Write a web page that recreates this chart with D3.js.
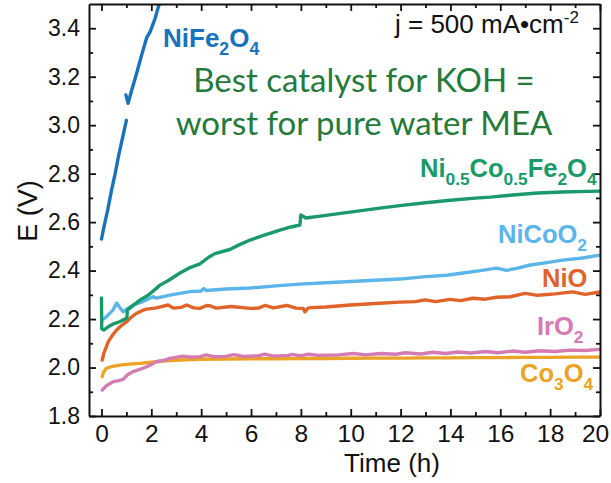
<!DOCTYPE html>
<html><head><meta charset="utf-8">
<script src="https://cdn.jsdelivr.net/npm/d3@7"></script>
<style>
html,body{margin:0;padding:0;background:#fff;}
svg{display:block;}
</style></head>
<body>
<svg id="chart" width="611" height="483"></svg>
<script>
// ---------- data (time h, potential V) ----------
const xTicks = [0,2,4,6,8,10,12,14,16,18,20];
const xMinorTicks = [1,3,5,7,9,11,13,15,17,19];
const yTicks = [1.8,2.0,2.2,2.4,2.6,2.8,3.0,3.2,3.4];
const yMinorTicks = [1.9,2.1,2.3,2.5,2.7,2.9,3.1,3.3];

const NiFe2O4_a = [[0,2.53],[0.1,2.58],[0.25,2.65],[0.4,2.73],[0.55,2.80],[0.7,2.88],[0.85,2.95],[1.0,3.02]];
const NiFe2O4_b = [[0.98,3.125],[1.07,3.09],[1.2,3.14],[1.4,3.21],[1.6,3.285],[1.81,3.36],[1.95,3.385],[2.15,3.44],[2.4,3.53]];
const NiCoFe = [[0,2.287],[0.01,2.16],[0.1,2.155],[0.3,2.17],[0.46,2.179],[0.75,2.19],[1.02,2.204],[1.04,2.237],[1.2,2.25],[1.54,2.278],[1.9,2.30],[2.35,2.34],[2.7,2.36],[3.15,2.39],[3.5,2.41],[3.95,2.428],[4.3,2.455],[4.55,2.47],[5.15,2.487],[5.5,2.505],[5.96,2.526],[6.5,2.545],[7.16,2.567],[7.6,2.58],[7.96,2.588],[8.0,2.63],[8.2,2.617],[9.0,2.628],[9.97,2.641],[11.17,2.658],[11.97,2.668],[13,2.68],[14,2.69],[15,2.699],[15.6,2.703],[16.5,2.712],[17.5,2.72],[18.5,2.724],[19.5,2.727],[20,2.728]];
const NiCoO2 = [[0.03,2.196],[0.2,2.21],[0.46,2.237],[0.61,2.266],[0.72,2.25],[0.87,2.23],[1.0,2.24],[1.27,2.258],[1.6,2.27],[2.07,2.292],[2.2,2.286],[2.8,2.3],[3.55,2.313],[4.0,2.316],[4.1,2.326],[4.2,2.318],[5.0,2.324],[5.96,2.328],[7.0,2.337],[7.96,2.344],[9,2.35],[10,2.355],[11.17,2.361],[11.97,2.365],[13,2.375],[13.85,2.381],[14.5,2.39],[15.2,2.4],[15.85,2.41],[16.25,2.401],[16.7,2.41],[17.2,2.423],[18,2.435],[18.5,2.443],[19.3,2.452],[20,2.464]];
const NiO = [[0.03,2.031],[0.1,2.06],[0.27,2.106],[0.45,2.135],[0.61,2.155],[0.8,2.173],[1.01,2.189],[1.2,2.208],[1.41,2.224],[1.75,2.24],[2.2,2.246],[2.67,2.258],[2.9,2.245],[3.2,2.248],[3.42,2.258],[3.7,2.246],[3.95,2.244],[4.22,2.256],[4.35,2.255],[4.6,2.245],[5.2,2.252],[5.96,2.244],[6.3,2.245],[6.56,2.256],[6.9,2.246],[7.44,2.256],[7.8,2.245],[8.1,2.244],[8.16,2.23],[8.3,2.246],[9.0,2.25],[9.97,2.258],[11,2.264],[11.97,2.27],[12.6,2.272],[12.98,2.279],[13.4,2.272],[13.98,2.281],[14.4,2.276],[14.9,2.286],[15.4,2.282],[15.85,2.29],[16.4,2.292],[17,2.306],[17.5,2.298],[18.2,2.304],[18.9,2.312],[19.4,2.302],[20,2.312]];
const IrO2 = [[0.03,1.907],[0.2,1.925],[0.47,1.942],[0.65,1.945],[0.87,1.951],[1.05,1.97],[1.27,1.983],[1.67,1.997],[1.95,2.01],[2.21,2.024],[2.5,2.03],[2.75,2.038],[3.28,2.047],[3.6,2.043],[3.95,2.045],[4.2,2.052],[4.5,2.045],[5.0,2.046],[5.3,2.053],[5.7,2.046],[6.3,2.048],[6.55,2.055],[6.9,2.047],[7.5,2.05],[7.65,2.054],[8.0,2.048],[8.3,2.055],[8.7,2.05],[9.5,2.052],[10.1,2.058],[10.6,2.052],[11.2,2.058],[11.8,2.055],[12.2,2.061],[12.8,2.056],[13.3,2.063],[13.8,2.058],[14.3,2.064],[14.8,2.06],[15.4,2.066],[15.9,2.061],[16.5,2.068],[17.0,2.063],[17.6,2.069],[18.2,2.066],[18.8,2.072],[19.4,2.07],[20,2.075]];
const Co3O4 = [[0.03,1.962],[0.08,1.98],[0.2,1.997],[0.4,2.004],[0.74,2.01],[1.1,2.014],[1.54,2.017],[2.0,2.022],[2.6,2.028],[3.2,2.031],[3.95,2.034],[5,2.035],[6,2.036],[7,2.036],[8,2.037],[9,2.037],[10,2.038],[11,2.039],[12,2.039],[13,2.04],[14,2.04],[15,2.041],[16,2.041],[17,2.042],[18,2.042],[19,2.043],[20,2.043]];

const seriesNames = ["Co3O4","IrO2","NiO","NiCoO2","Ni0.5Co0.5Fe2O4","NiFe2O4","NiFe2O4"];
const seriesData = [Co3O4, IrO2, NiO, NiCoO2, NiCoFe, NiFe2O4_a, NiFe2O4_b];
const seriesColors = ["#eba325","#d47bb4","#e0632a","#5cb5e8","#1a9a69","#1a72bb","#1a72bb"];

(function(){
const svg = d3.select("#chart");
const L = 89, R = 600, T = 4, B = 416;
const x = d3.scaleLinear().domain([-0.5, 20]).range([L, R]);
const y = d3.scaleLinear().domain([1.8, 3.5]).range([B, T]);

svg.append("defs").append("clipPath").attr("id","clip")
  .append("rect").attr("x",L).attr("y",T).attr("width",R-L).attr("height",B-T);

const line = d3.line().x(d=>x(d[0])).y(d=>y(d[1])).curve(d3.curveLinear);
const g = svg.append("g").attr("clip-path","url(#clip)");
seriesData.forEach((s,i)=>{
  g.append("path").datum(s).attr("d",line)
   .attr("fill","none").attr("stroke",seriesColors[i])
   .attr("stroke-width",3.4).attr("stroke-linejoin","round").attr("stroke-linecap","round");
});

const font = "'Liberation Sans', Arial, sans-serif";
function styleAxis(sel){
  sel.select(".domain").attr("stroke","#111").attr("stroke-width",2);
  sel.selectAll(".tick line").attr("stroke","#111").attr("stroke-width",1.8);
}
function minor(sel){ sel.select(".domain").remove(); sel.selectAll(".tick line").attr("stroke","#111").attr("stroke-width",1.8); }

const axB = svg.append("g").attr("transform",`translate(0,${B})`)
  .call(d3.axisBottom(x).tickValues(xTicks).tickSize(-7).tickSizeOuter(0).tickPadding(9).tickFormat(d3.format("d")));
axB.selectAll("text").attr("font-family",font).attr("font-size",24.5).attr("fill","#111")
  .attr("dx", d => d === 20 ? -5 : 0);
styleAxis(axB);
svg.append("g").attr("transform",`translate(0,${B})`)
  .call(d3.axisBottom(x).tickValues(xMinorTicks).tickSize(-4).tickSizeOuter(0).tickFormat("")).call(minor);
const axT = svg.append("g").attr("transform",`translate(0,${T})`)
  .call(d3.axisTop(x).tickValues(xTicks).tickSize(-7).tickSizeOuter(0).tickFormat(""));
styleAxis(axT);
svg.append("g").attr("transform",`translate(0,${T})`)
  .call(d3.axisTop(x).tickValues(xMinorTicks).tickSize(-4).tickSizeOuter(0).tickFormat("")).call(minor);

const axL = svg.append("g").attr("transform",`translate(${L},0)`)
  .call(d3.axisLeft(y).tickValues(yTicks).tickSize(-7).tickSizeOuter(0).tickPadding(9).tickFormat(d3.format(".1f")));
axL.selectAll("text").attr("font-family",font).attr("font-size",23).attr("fill","#111");
styleAxis(axL);
svg.append("g").attr("transform",`translate(${L},0)`)
  .call(d3.axisLeft(y).tickValues(yMinorTicks).tickSize(-4).tickSizeOuter(0).tickFormat("")).call(minor);
const axR = svg.append("g").attr("transform",`translate(${R},0)`)
  .call(d3.axisRight(y).tickValues(yTicks).tickSize(-7).tickSizeOuter(0).tickFormat(""));
styleAxis(axR);
svg.append("g").attr("transform",`translate(${R},0)`)
  .call(d3.axisRight(y).tickValues(yMinorTicks).tickSize(-4).tickSizeOuter(0).tickFormat("")).call(minor);

svg.append("text").attr("x",392).attr("y",472).attr("text-anchor","middle")
  .attr("font-family",font).attr("font-size",26).attr("fill","#111").text("Time (h)");
svg.append("text").attr("transform","translate(37,211) rotate(-90)").attr("text-anchor","middle")
  .attr("font-family",font).attr("font-size",27).attr("fill","#111").text("E (V)");

const jt = svg.append("text").attr("x",395).attr("y",33).attr("font-family",font).attr("font-size",26).attr("fill","#111");
jt.append("tspan").text("j = 500 mA•cm");
jt.append("tspan").attr("font-size",17).attr("dy",-10).text("-2");

const annColor = "#237a3b";
const annFont = "Lato, 'Open Sans', sans-serif";
svg.append("text").attr("x",364).attr("y",92).attr("text-anchor","middle").attr("font-family",annFont)
  .attr("font-size",33).attr("fill",annColor).text("Best catalyst for KOH =");
svg.append("text").attr("x",364).attr("y",135).attr("text-anchor","middle").attr("font-family",annFont)
  .attr("font-size",33).attr("fill",annColor).text("worst for pure water MEA");

function chemLabel(parts, x0, y0, color, size){
  const t = svg.append("text").attr("x",x0).attr("y",y0).attr("font-family",font)
    .attr("font-weight","bold").attr("font-size",size).attr("fill",color);
  let shifted = false;
  parts.forEach(p=>{
    const sub = p.startsWith("_");
    const txt = sub ? p.slice(1) : p;
    const ts = t.append("tspan").text(txt);
    if (sub && !shifted){ ts.attr("dy", size*0.32).attr("font-size", size*0.68); shifted=true; }
    else if (sub){ ts.attr("font-size", size*0.68); }
    else if (shifted){ ts.attr("dy", -size*0.32); shifted=false; }
  });
}
chemLabel(["NiFe","_2","O","_4"], 163, 47, "#1a72bb", 26);
chemLabel(["Ni","_0.5","Co","_0.5","Fe","_2","O","_4"], 420, 177, "#1a9a69", 25.5);
chemLabel(["NiCoO","_2"], 498, 243, "#5cb5e8", 25.5);
chemLabel(["NiO"], 542, 287, "#e0632a", 25.5);
chemLabel(["IrO","_2"], 537, 335, "#d47bb4", 25.5);
chemLabel(["Co","_3","O","_4"], 520, 382, "#eba325", 25.5);
})();
</script>
</body></html>
